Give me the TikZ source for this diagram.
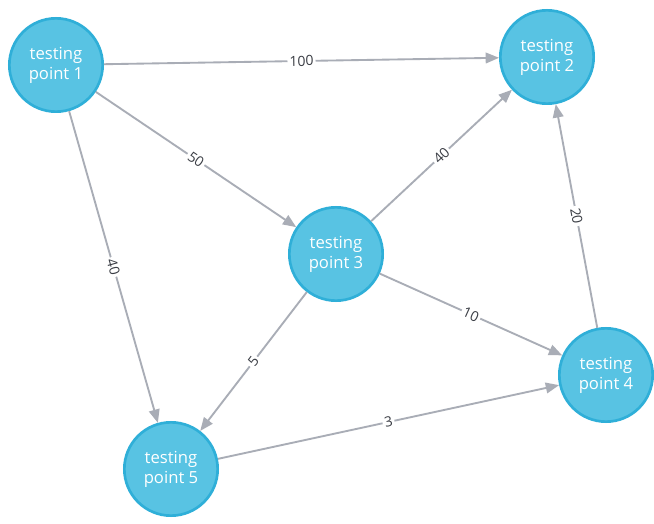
\documentclass[tikz,border=0pt]{standalone}
\usepackage{fontspec}
\setmainfont{Open Sans}
\usetikzlibrary{arrows.meta,scopes}
\definecolor{ptfill}{HTML}{58C3E3}
\definecolor{ptedge}{HTML}{2FAFD8}
\definecolor{lnk}{HTML}{A9ADB6}
\definecolor{lbltxt}{HTML}{3A3D44}
\tikzset{
  >= {Triangle[length=10pt,width=8pt]},
  pt/.style={circle, draw=ptedge, line width=2pt, fill=ptfill, text=white,
    minimum size=70pt, inner sep=0pt, align=center, font=\fontsize{12.5}{15}\selectfont},
  lbl/.style={sloped, fill=white, inner sep=1.5pt, text=lbltxt, font=\fontsize{10.5}{12}\selectfont}
}
\begin{document}
\begin{tikzpicture}[x=0.75pt, y=-0.75pt, link/.style={draw=lnk, line width=1.4pt}]
  \useasboundingbox[fill=white] (0,0) rectangle (654,524);
  \node[pt] (p1) at (56,65)   {testing\\point 1};
  \node[pt] (p2) at (547,57)  {testing\\point 2};
  \node[pt] (p3) at (336,254) {testing\\point 3};
  \node[pt] (p4) at (606,375) {testing\\point 4};
  \node[pt] (p5) at (171,469) {testing\\point 5};
  {[every path/.style=link, ->]
  \path (p1) edge node[lbl]{100} (p2);
  \path (p1) edge node[lbl]{50} (p3);
  \path (p1) edge node[lbl]{40} (p5);
  \path (p3) edge node[lbl]{40} (p2);
  \path (p4) edge node[lbl]{20} (p2);
  \path (p3) edge node[lbl]{10} (p4);
  \path (p3) edge node[lbl]{5} (p5);
  \path (p5) edge node[lbl]{3} (p4);
  }
\end{tikzpicture}
\end{document}
